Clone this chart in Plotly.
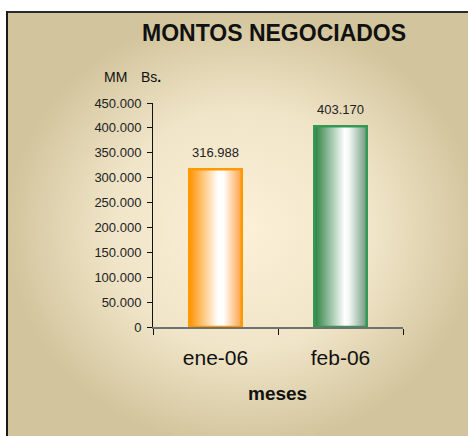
import plotly.graph_objects as go

# ---- data ----
categories = ["ene-06", "feb-06"]
values = [316988, 403170]
y_ticks = [0, 50000, 100000, 150000, 200000, 250000, 300000, 350000, 400000, 450000]

# ---- styles ----
W, H = 468, 436


def px(x):
    return x / W


def py(y):
    return 1 - y / H


bar_width = 0.42
border_colors = ["#ff9900", "#339955"]
gradients = [
    [[0, "#ff9200"], [0.55, "#ffffff"], [0.65, "#ffffff"], [1, "#ffa043"]],
    [[0, "#2a8040"], [0.58, "#ffffff"], [0.66, "#f4f8f5"], [1, "#6f9a80"]],
]
FONT = "Arial, Liberation Sans, sans-serif"

fig = go.Figure()

# background panel (pixel coordinate axes covering the figure)
fig.add_trace(go.Scatter(
    x=[6, W + 12, W + 12, 6, 6], y=[11, 11, H + 12, H + 12, 11],
    mode="lines", fill="toself", line=dict(width=0, color="rgba(0,0,0,0)"),
    fillgradient=dict(type="radial",
                      colorscale=[[0, "#fcf0d8"], [0.55, "#f0e5c8"], [1, "#d2c49c"]]),
    xaxis="x", yaxis="y", hoverinfo="skip", showlegend=False,
))

# bars (library bars, then gradient fill on top)
xs = list(range(len(categories)))
fig.add_trace(go.Bar(
    x=xs, y=values, width=bar_width, xaxis="x2", yaxis="y2",
    marker=dict(color="white", line=dict(width=0)), showlegend=False, hoverinfo="skip",
))
for i, v in enumerate(values):
    l, r = i - bar_width / 2, i + bar_width / 2
    fig.add_trace(go.Scatter(
        x=[l, l, r, r, l], y=[0, v, v, 0, 0],
        mode="lines", fill="toself",
        fillgradient=dict(type="horizontal", colorscale=gradients[i]),
        line=dict(color=border_colors[i], width=2.5),
        xaxis="x2", yaxis="y2", showlegend=False, hoverinfo="skip",
    ))

fig.update_layout(
    width=W, height=H,
    margin=dict(l=0, r=0, t=0, b=0, autoexpand=False),
    paper_bgcolor="white", plot_bgcolor="rgba(0,0,0,0)",
    separators=",.",
    font=dict(family=FONT, color="#222222"),
    xaxis=dict(domain=[0, 1], range=[0, W], visible=False, fixedrange=True, automargin=False),
    yaxis=dict(domain=[0, 1], range=[H, 0], visible=False, fixedrange=True, automargin=False),
    xaxis2=dict(
        domain=[px(153), px(403)], anchor="y2", range=[-0.5, len(categories) - 0.5],
        tickvals=xs, ticktext=categories, ticks="", automargin=False,
        tickfont=dict(size=21, color="#111111", family=FONT),
        ticklabelstandoff=11,
        showline=True, linecolor="#707070", linewidth=2,
        showgrid=False, zeroline=False,
        minor=dict(tickvals=[-0.5, 0.5, 1.5], ticks="outside", ticklen=6,
                   tickcolor="#111111", tickwidth=1, showgrid=False),
    ),
    yaxis2=dict(
        domain=[py(327), py(103)], anchor="x2", range=[0, 450000],
        tickvals=y_ticks, tickformat=",d", automargin=False,
        ticks="outside", ticklen=5, tickcolor="#111111",
        tickfont=dict(size=13, color="#222222", family=FONT),
        ticklabelstandoff=3,
        showline=True, linecolor="#111111", linewidth=1,
        showgrid=False, zeroline=False,
    ),
    shapes=[
        dict(type="line", xref="paper", yref="paper", x0=px(6), x1=1, y0=py(12), y1=py(12),
             line=dict(color="#2a2a2a", width=2)),
        dict(type="line", xref="paper", yref="paper", x0=px(7), x1=px(7), y0=0, y1=py(11),
             line=dict(color="#1a1a1a", width=2)),
    ],
    annotations=[
        dict(text="<b>MONTOS NEGOCIADOS</b>", xref="paper", yref="paper",
             x=px(274), y=py(33), xanchor="center", yanchor="middle",
             showarrow=False, font=dict(size=23, color="#111111", family=FONT)),
        dict(text="MM", xref="paper", yref="paper",
             x=px(102), y=py(77), xanchor="left", yanchor="middle",
             showarrow=False, font=dict(size=14, color="#111111", family=FONT)),
        dict(text="Bs<b>.</b>", xref="paper", yref="paper",
             x=px(139), y=py(77), xanchor="left", yanchor="middle",
             showarrow=False, font=dict(size=14, color="#111111", family=FONT)),
        dict(text="<b>meses</b>", xref="paper", yref="paper",
             x=px(277), y=py(393), xanchor="center", yanchor="middle",
             showarrow=False, font=dict(size=19, color="#111111", family=FONT)),
    ] + [
        dict(text=f"{v:,}".replace(",", "."), xref="x2", yref="y2", x=i, y=v,
             yshift=17, xanchor="center", yanchor="middle", showarrow=False,
             font=dict(size=13, color="#222222", family=FONT))
        for i, v in enumerate(values)
    ],
)

# remove the default page margin so the figure fills the window exactly
fig.write_html(
    "out.html",
    config={"displayModeBar": False},
    post_script="document.body.style.margin='0';document.body.style.overflow='hidden';",
)
